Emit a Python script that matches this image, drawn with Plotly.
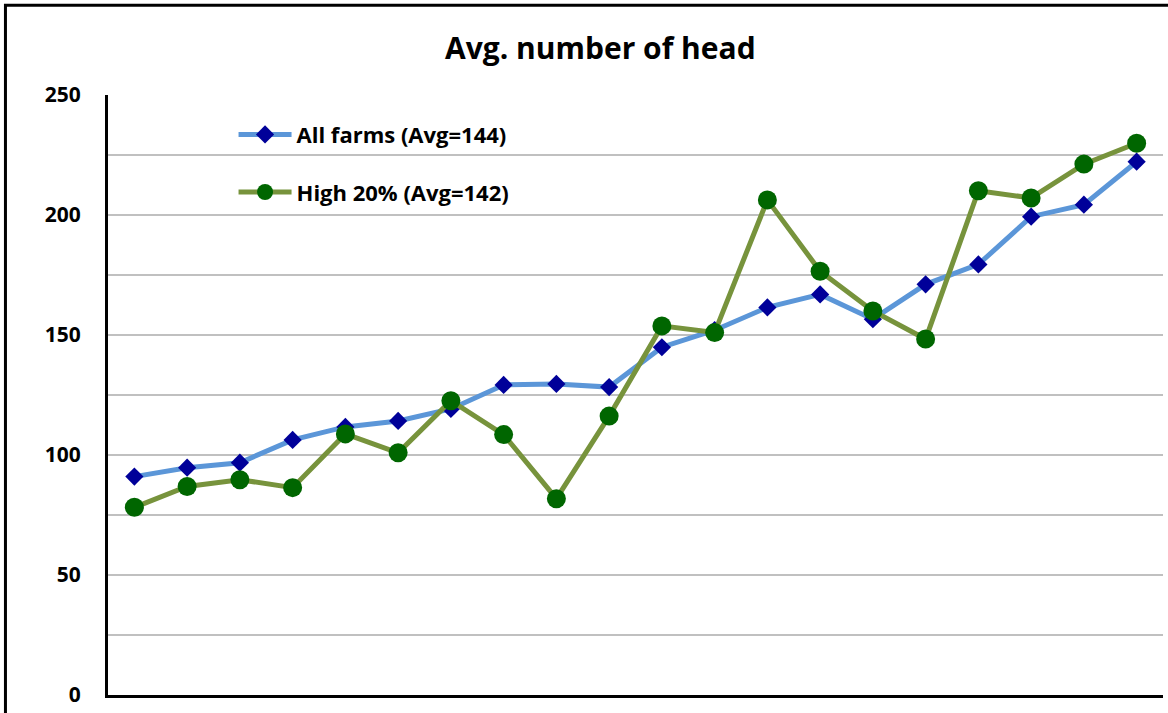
import plotly.graph_objects as go

# Twenty farm groups along the x axis (no category labels shown)
groups = list(range(1, 21))

all_farms = [91, 94.7, 96.8, 106.3, 111.7, 114.2, 119.2, 129.2, 129.6, 128.3,
             144.9, 152, 161.5, 166.9, 156.6, 171.1, 179.4, 199.3, 204.3, 222.2]
high_20 = [78.2, 86.9, 89.7, 86.4, 108.8, 100.9, 122.6, 108.5, 81.8, 116.2,
           153.8, 151, 206.3, 176.6, 160, 148.3, 210.1, 207.1, 221.2, 229.9]

y_ticks = [0, 50, 100, 150, 200, 250]

FONT = "Open Sans"

fig = go.Figure()
fig.add_trace(go.Scatter(
    x=groups, y=all_farms, mode="lines+markers",
    name="All farms (Avg=144)", legendgroup="a",
    line=dict(color="#5B96D8", width=5),
    marker=dict(symbol="diamond", size=14, color="#000099"),
))
fig.add_trace(go.Scatter(
    x=groups, y=high_20, mode="lines+markers",
    name="High 20% (Avg=142)", legendgroup="b",
    line=dict(color="#77933C", width=5),
    marker=dict(symbol="circle", size=19, color="#006600"),
))

fig.update_layout(
    width=1168, height=713,
    margin=dict(l=108, r=5, t=95, b=16),
    paper_bgcolor="white", plot_bgcolor="white",
    font=dict(family=FONT, color="black"),
    title=dict(text="<b>Avg. number of head</b>", x=0.514, xanchor="center",
               y=0.932, yanchor="middle", font=dict(size=30, family=FONT, color="black")),
    showlegend=True,
    legend=dict(x=0.119, xanchor="left", y=0.969, yanchor="top",
                font=dict(size=22, family=FONT, color="black", weight="bold"),
                bgcolor="rgba(0,0,0,0)", tracegroupgap=26, itemwidth=53),
    xaxis=dict(range=[0.5, 20.5], showticklabels=False, showgrid=False,
               zeroline=False, showline=True, linecolor="black", linewidth=3,
               ticks=""),
    yaxis=dict(range=[0, 250], tickvals=y_ticks, showgrid=True, gridcolor="#C0C0C0",
               gridwidth=2, zeroline=False, showline=True, linecolor="black",
               linewidth=3, ticks="", ticklabelstandoff=20,
               tickfont=dict(size=21, family=FONT, color="black", weight="bold"),
               minor=dict(dtick=25, showgrid=True, gridcolor="#C0C0C0", gridwidth=2)),
)

# Chart frame around the whole figure (left and top edges visible)
fig.add_shape(type="rect", xref="paper", yref="paper",
              x0=-0.0972, x1=1.03, y0=-0.05, y1=1.1495,
              line=dict(color="black", width=3), fillcolor="rgba(0,0,0,0)",
              layer="above")

fig.write_html("out.html")
